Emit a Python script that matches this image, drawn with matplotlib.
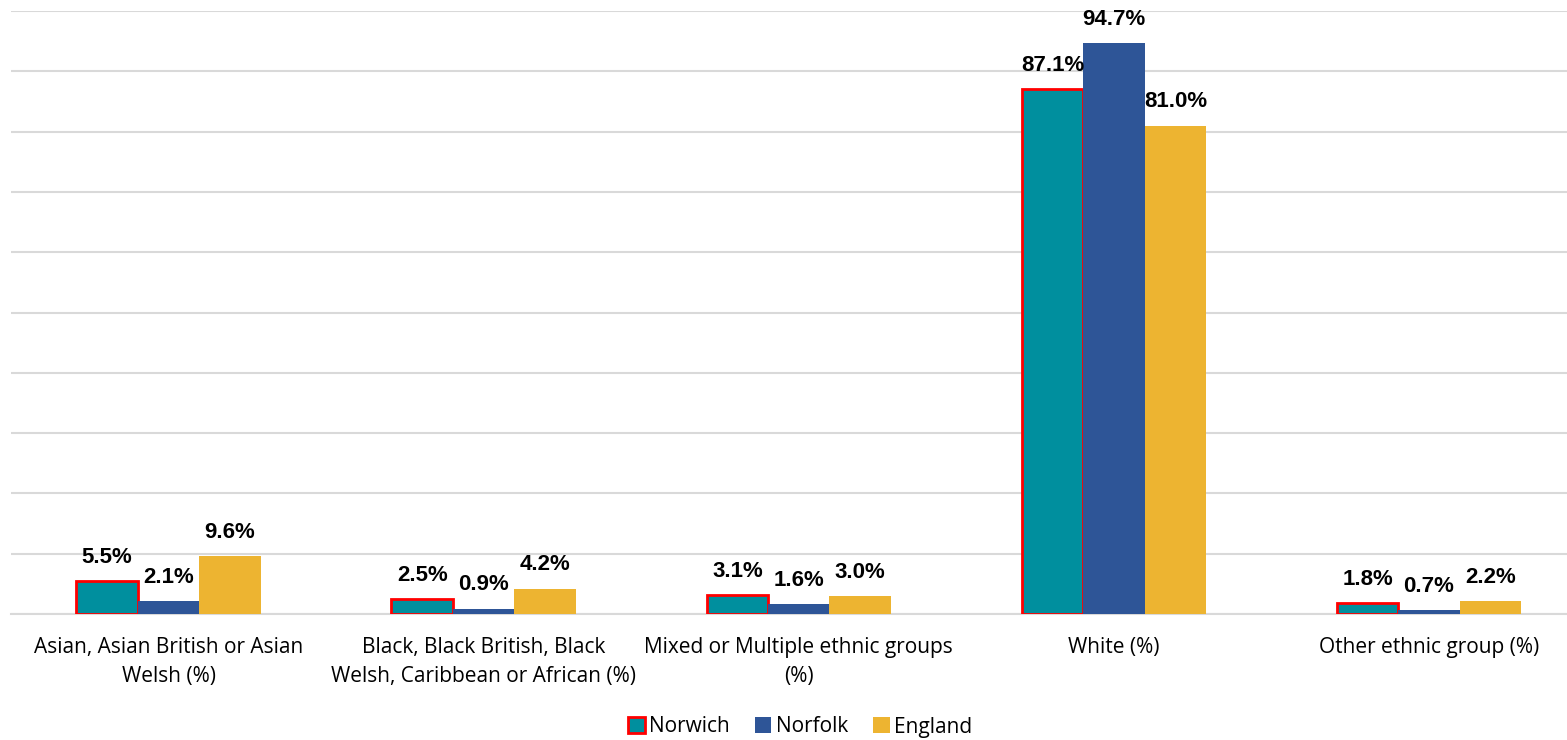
import matplotlib.pyplot as plt
import numpy as np

categories = ["Asian, Asian British or Asian\nWelsh (%)",
              "Black, Black British, Black\nWelsh, Caribbean or African (%)",
              "Mixed or Multiple ethnic groups\n(%)",
              "White (%)",
              "Other ethnic group (%)"]
series_names = ["Norwich", "Norfolk", "England"]
norwich = [5.5, 2.5, 3.1, 87.1, 1.8]
norfolk = [2.1, 0.9, 1.6, 94.7, 0.7]
england = [9.6, 4.2, 3.0, 81.0, 2.2]

colors = ["#008F9E", "#2E5597", "#EDB431"]

fig = plt.figure(figsize=(15.67, 7.4), dpi=100)
ax = fig.add_axes([11/1567, (740-614)/740, 1 - 11/1567, (614-11)/740])

x = np.arange(len(categories))
w = 0.195
data = [norwich, norfolk, england]
for i, (vals, c, name) in enumerate(zip(data, colors, series_names)):
    kw = dict(edgecolor="#FF0000", linewidth=2) if i == 0 else dict(linewidth=0)
    bars = ax.bar(x + (i - 1) * w, vals, w, color=c, label=name, zorder=3, **kw)
    for b, v in zip(bars, vals):
        ax.annotate(f"{v:.1f}%", (b.get_x() + b.get_width() / 2, v),
                    xytext=(0, 9.5), textcoords="offset points",
                    ha="center", va="bottom", fontsize=16, fontweight="bold",
                    family="Liberation Sans", color="#000000", zorder=4)

ax.set_xlim(-0.5, 4.438)
ax.set_ylim(0, 100)
ax.set_yticks(np.arange(0, 101, 10))
ax.yaxis.grid(True, color="#D9D9D9", linewidth=1.5, zorder=0)
ax.tick_params(axis="y", left=False, labelleft=False)
ax.tick_params(axis="x", bottom=False, pad=13)
ax.set_xticks(x)
ax.set_xticklabels(categories, fontsize=15, family="Open Sans", color="#000000", linespacing=1.5)
for s in ["top", "right", "left"]:
    ax.spines[s].set_visible(False)
ax.spines["bottom"].set_color("#D9D9D9")
ax.spines["bottom"].set_linewidth(1.5)

leg = fig.legend(loc="center", bbox_to_anchor=(800/1567, 1 - 727/740), ncol=3, frameon=False,
                 prop={"family": "Open Sans", "size": 15}, handlelength=0.8, handleheight=0.8,
                 handletextpad=0.2, columnspacing=1.2)
fig.savefig("out.png", dpi=100)
